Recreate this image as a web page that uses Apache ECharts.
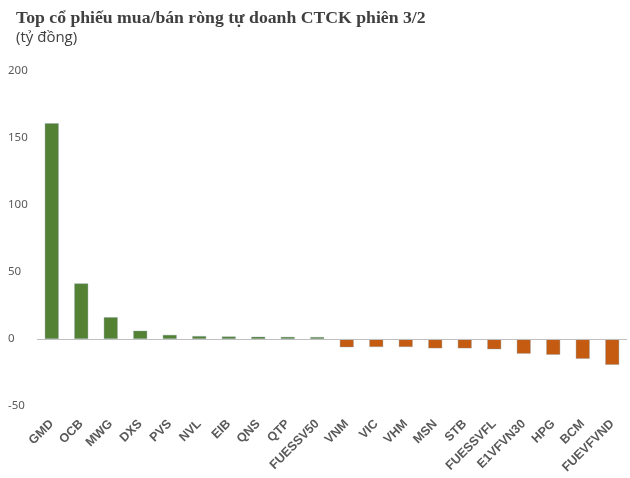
<!DOCTYPE html>
<html>
<head>
<meta charset="utf-8">
<script src="https://cdn.jsdelivr.net/npm/echarts@6/dist/echarts.min.js"></script>
<style>
  html, body { margin: 0; padding: 0; background: #fff; }
  #chart { width: 630px; height: 478px; }
</style>
</head>
<body>
<div id="chart"></div>
<script>
// mã cổ phiếu
const categories = [
  'GMD', 'OCB', 'MWG', 'DXS', 'PVS', 'NVL', 'EIB', 'QNS', 'QTP', 'FUESSV50',
  'VNM', 'VIC', 'VHM', 'MSN', 'STB', 'FUESSVFL', 'E1VFVN30', 'HPG', 'BCM', 'FUEVFVND'
];
// giá trị mua/bán ròng (tỷ đồng)
const netValues = [
  161, 41.5, 16.3, 6.2, 3.1, 2.2, 1.9, 1.7, 1.6, 1.5,
  -6.2, -6, -6, -7, -7, -7.7, -11, -11.8, -14.8, -19.3
];
const yTicks = { min: -50, max: 200, interval: 50 };

const GREEN = '#548235';
const ORANGE = '#c55a11';

const chart = echarts.init(document.getElementById('chart'));

chart.setOption({
  animation: false,
  title: [
    {
      text: 'Top cổ phiếu mua/bán ròng tự doanh CTCK phiên 3/2',
      left: 11,
      top: 4,
      textStyle: {
        fontFamily: 'Liberation Serif',
        fontWeight: 'bold',
        fontSize: 17.7,
        color: '#404040'
      }
    },
    {
      text: '(tỷ đồng)',
      left: 11,
      top: 25,
      textStyle: {
        fontFamily: 'Open Sans',
        fontWeight: 'normal',
        fontSize: 15,
        color: '#404040'
      }
    }
  ],
  grid: {
    left: 37,
    right: 3,
    top: 71,
    bottom: 72,
    containLabel: false
  },
  xAxis: {
    type: 'category',
    data: categories,
    axisLine: { show: false, onZero: false },
    axisTick: { show: false },
    axisLabel: {
      interval: 0,
      rotate: 45,
      margin: 16,
      fontFamily: 'Liberation Sans',
      fontWeight: 'bold',
      fontSize: 12.5,
      color: '#595959'
    }
  },
  yAxis: {
    type: 'value',
    min: yTicks.min,
    max: yTicks.max,
    interval: yTicks.interval,
    axisLine: { show: false },
    axisTick: { show: false },
    splitLine: { show: false },
    axisLabel: {
      align: 'left',
      margin: 29,
      fontFamily: 'Noto Sans',
      fontSize: 11.5,
      color: '#595959'
    }
  },
  series: [
    {
      type: 'bar',
      data: netValues,
      barWidth: 14,
      itemStyle: {
        color: (p) => (p.value >= 0 ? GREEN : ORANGE),
        borderColor: 'rgba(140,160,170,0.6)',
        borderWidth: 0.6
      },
      markLine: {
        silent: true,
        symbol: 'none',
        label: { show: false },
        lineStyle: { color: '#bfbfbf', width: 1, type: 'solid' },
        data: [{ yAxis: 0 }]
      }
    }
  ]
});
</script>
</body>
</html>
